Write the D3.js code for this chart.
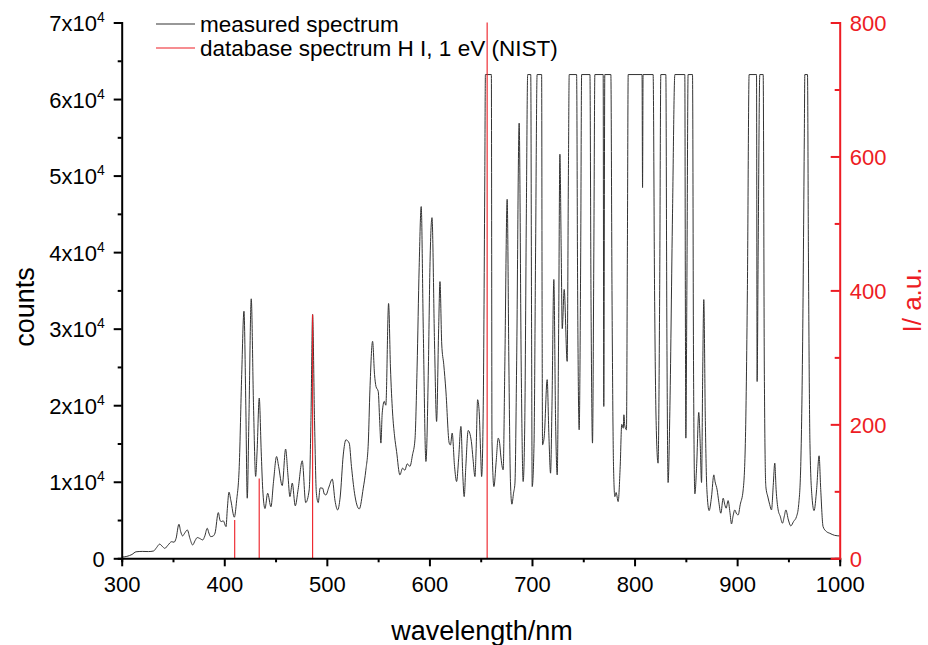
<!DOCTYPE html>
<html><head><meta charset="utf-8">
<script src="https://cdn.jsdelivr.net/npm/d3@7"></script>
<style>body{margin:0;background:#fff}svg{display:block;font-family:"Liberation Sans",Arial,sans-serif}</style>
</head><body><svg id="c" width="928" height="645"></svg>
<script>
// measured spectrum (wavelength nm, counts)
const wavelengths = [300,305,310,314,320,326,331,334,337,340,342,345,348.7,351,353,355.8,357.5,359.4,361,364,366.5,369.2,371.5,373.7,376,379,381,383.4,385,386.7,389,391,394.2,396,397.5,399,401.7,403,404.6,406.5,409.8,412,414.6,417,419.2,421,422.4,424,426.3,428.5,430.6,432,434.1,436,437.5,439.7,442.3,445.5,448,451,453,456.5,459.8,462,464,466.3,469.2,472,476,479.4,482.8,484.5,486.1,488,489.8,491.6,493.5,495.9,497.5,499.1,502,505.3,508,510.5,513,516,518.6,521.8,524,527,531.6,535.5,538,540.4,542,544.6,546.5,547.9,550.1,551.5,552.7,554,556,557.5,560.2,562,564.1,566,568,571.2,573.9,576,578.4,581,583.5,585.9,588,590,592,594,596.6,599,600.5,602.5,605,607,609,610.3,612,614,616,619.3,620.5,622.2,624.5,626.5,628.5,630.7,632.5,633.9,635.5,637.8,640.9,642.5,644.4,645.5,647,648.5,650,650.9,652.5,654,654.6,660.4,661,662.9,665,667.1,668.5,669.5,671.9,673.5,675.8,677.5,679,680.4,682,683.4,685,687.5,689.5,691.4,693,694.5,695.8,698.8,699.6,700.2,702,703.5,705,709.4,709.9,710.3,712,714.8,716.5,718.1,719.5,721.3,723,724.6,726,727.2,728.5,729.5,731.4,734.3,735.5,736.3,743.5,744.5,746,747.5,748.4,756.5,757.5,759,760.3,761.3,769.4,770,771,776.9,778,779.5,780.8,782,784,786,787.5,789,789.6,790.5,792.1,793,793.8,807.3,807.8,808.3,818.1,819.5,821,822.9,824.5,825.6,830.5,831.5,832.7,834.5,837,839.3,849,849.6,850,851,852.2,856.5,857.5,858.8,860.5,862.6,864,865.3,866.5,867.5,869,870.5,872.7,875,877.3,878.5,880.5,882,884.1,886.4,888,889.3,891.2,893,894.5,896,897.7,899.5,901,903,905.9,908,910,911.7,918.9,919.5,920.5,922.1,925.4,926.5,928,930,931.8,933.5,935.2,936.7,938,940,942,944.2,946,947.5,950,952.3,955,957.9,960,962,964,965.5,966,968.6,969.5,971,973,975,977.5,979.9,981.5,983.8,987,990.3,995,1000];
const counts = [150,250,500,850,900,880,950,1400,1850,1500,1300,1700,2170,2100,2600,4450,3500,2920,3200,3700,2600,1740,2300,2710,2600,2400,2900,3920,3300,2830,2900,3300,5970,4900,4800,4900,4140,6500,8640,7500,5370,7500,12000,24000,32280,20000,7850,18000,33900,20000,10700,14000,20940,14000,9000,6500,8500,6730,10000,13300,12000,9500,14270,11000,8060,9820,6850,9000,12740,7280,8940,18000,31850,18000,8500,7280,9200,9160,8400,8280,9300,10340,7500,6320,8000,13500,15480,15050,12000,8500,6450,9160,11500,15050,22000,28350,24000,22460,21800,18000,15050,19000,20500,20000,33290,25000,18980,16000,13950,10900,11780,11500,12340,12000,13500,15480,25000,38000,45950,30000,12650,25000,38000,44500,28000,17880,30000,36150,28000,25300,22000,15050,14800,16360,12000,10030,13000,17230,11000,8060,12000,16700,15260,13000,10680,14000,20720,19190,13500,10680,20000,50000,63200,63200,15260,9370,12500,15700,15000,13500,11560,25000,46900,25000,10000,7070,8500,9820,25000,56850,25000,10030,18000,45000,63200,63200,30000,9370,15000,40000,63200,63200,30000,14830,16000,23340,16000,11120,20000,36430,18000,10900,30000,52790,40000,30000,35120,25730,50000,63200,63200,35000,16790,40000,63200,63200,35000,15050,40000,63200,63200,19840,63200,63200,35000,12000,8060,8600,7410,12000,17500,17000,18750,17300,16790,40000,63200,63200,48430,63200,63200,35000,18000,12430,35000,63200,63200,30000,9900,20000,45000,63200,63200,30000,15700,35000,63200,63200,25000,8420,12000,19060,15000,9900,25000,33800,18000,9000,6230,8000,10900,10000,8940,7500,5890,7850,7000,6550,7540,6000,4490,5500,6320,5800,5670,7000,8940,15000,35000,63200,63200,23100,40000,63200,63200,25000,9370,8000,7000,6320,9500,12430,9000,6320,5500,4580,5500,6320,5000,4230,4800,5450,7000,12000,30000,55000,63200,63200,40000,15000,8000,6230,9000,13390,9000,4140,3500,3270,3000,2920];
// NIST H I lines (nm, a.u.)
const nistWavelengths = [410.17, 434.05, 486.13, 656.28];
const nistIntensity = [57, 119, 364, 800];
const xTicks = [300,400,500,600,700,800,900,1000];
const yLeftTicks = [0,10000,20000,30000,40000,50000,60000,70000];
const yRightTicks = [0,200,400,600,800];
const legendLabels = ["measured spectrum", "database spectrum H I, 1 eV (NIST)"];

const RED = "#ed1c24";
const FONT = "Liberation Sans, Arial, sans-serif";
const svg = d3.select("#c");
const L = 121.7, R = 839.7, T = 22.5, B = 558.3;
const x = d3.scaleLinear().domain([300,1000]).range([L,R]);
const y = d3.scaleLinear().domain([0,70000]).range([B,T]);
const y2 = d3.scaleLinear().domain([0,800]).range([B,T]);

svg.append("clipPath").attr("id","clip").append("rect").attr("x",L).attr("y",T-1).attr("width",R-L).attr("height",B-T+1);

const pts = wavelengths.map((w,i)=>[w,counts[i]]);
svg.append("path").datum(pts).attr("clip-path","url(#clip)")
  .attr("fill","none").attr("stroke","#333").attr("stroke-width",1)
  .attr("d", d3.line().x(d=>x(d[0])).y(d=>y(d[1])).curve(d3.curveMonotoneX));

svg.append("g").selectAll("line").data(nistWavelengths).join("line")
  .attr("x1",d=>x(d)).attr("x2",d=>x(d)).attr("y1",B).attr("y2",(d,i)=>y2(nistIntensity[i]))
  .attr("stroke",RED).attr("stroke-width",1.1);

// bottom axis
const gx = svg.append("g").attr("transform",`translate(0,${B})`);
gx.call(d3.axisBottom(x).tickValues(d3.range(300,1001,50)).tickSize(4).tickFormat(""));
gx.selectAll(".tick line").filter(d=>xTicks.includes(d)).attr("y2",8);
gx.selectAll(".tick").filter(d=>xTicks.includes(d)).append("text").attr("y",34).attr("text-anchor","middle")
  .attr("fill","#000").style("font-size","22px").style("font-family",FONT).text(d=>d);
gx.select(".domain").attr("stroke-width",2);
gx.selectAll(".tick line").attr("stroke-width",2);

// left axis
const gy = svg.append("g").attr("transform",`translate(${L},0)`);
gy.call(d3.axisLeft(y).tickValues(d3.range(0,70001,5000)).tickSize(4).tickFormat(""));
gy.selectAll(".tick line").filter(d=>yLeftTicks.includes(d)).attr("x2",-8);
gy.selectAll(".tick line").attr("stroke-width",2);
gy.select(".domain").attr("stroke-width",2);
gy.selectAll(".tick").filter(d=>yLeftTicks.includes(d)).each(function(d){
  const t = d3.select(this).append("text").attr("x",-17).attr("y",8).attr("text-anchor","end")
    .attr("fill","#000").style("font-size","22px").style("font-family",FONT);
  if(d===0){ t.text("0"); }
  else {
    t.append("tspan").text(`${d/10000}x10`);
    t.append("tspan").attr("dy",-9).style("font-size","14px").text("4");
  }
});

// right axis
const gr = svg.append("g").attr("transform",`translate(${R},0)`);
gr.call(d3.axisLeft(y2).tickValues(d3.range(0,801,100)).tickSize(5).tickFormat(""));
gr.selectAll(".tick line").filter(d=>yRightTicks.includes(d)).attr("x2",-9);
gr.selectAll(".tick line").attr("stroke",RED).attr("stroke-width",2);
gr.select(".domain").attr("stroke",RED).attr("stroke-width",2);
gr.selectAll(".tick").filter(d=>yRightTicks.includes(d)).append("text").attr("x",10).attr("y",8)
  .attr("text-anchor","start").attr("fill",RED).style("font-size","22px")
  .style("font-family",FONT).text(d=>d);

// titles
svg.append("text").attr("x",482).attr("y",640).attr("text-anchor","middle").style("font-size","27px").text("wavelength/nm");
svg.append("text").attr("transform","translate(34,307) rotate(-90)").attr("text-anchor","middle").style("font-size","27px").text("counts");
svg.append("text").attr("transform","translate(921,300) rotate(-90)").attr("text-anchor","middle").attr("fill",RED).style("font-size","26px").text("I/ a.u.");

// legend
const leg = svg.append("g");
[["#333",24],[RED,48]].forEach(([c,yy],i)=>{
  leg.append("line").attr("x1",156).attr("x2",195).attr("y1",yy).attr("y2",yy).attr("stroke",c).attr("stroke-width",1.1);
  leg.append("text").attr("x",200).attr("y",yy+8).style("font-size","22.5px").text(legendLabels[i]);
});
</script></body></html>
